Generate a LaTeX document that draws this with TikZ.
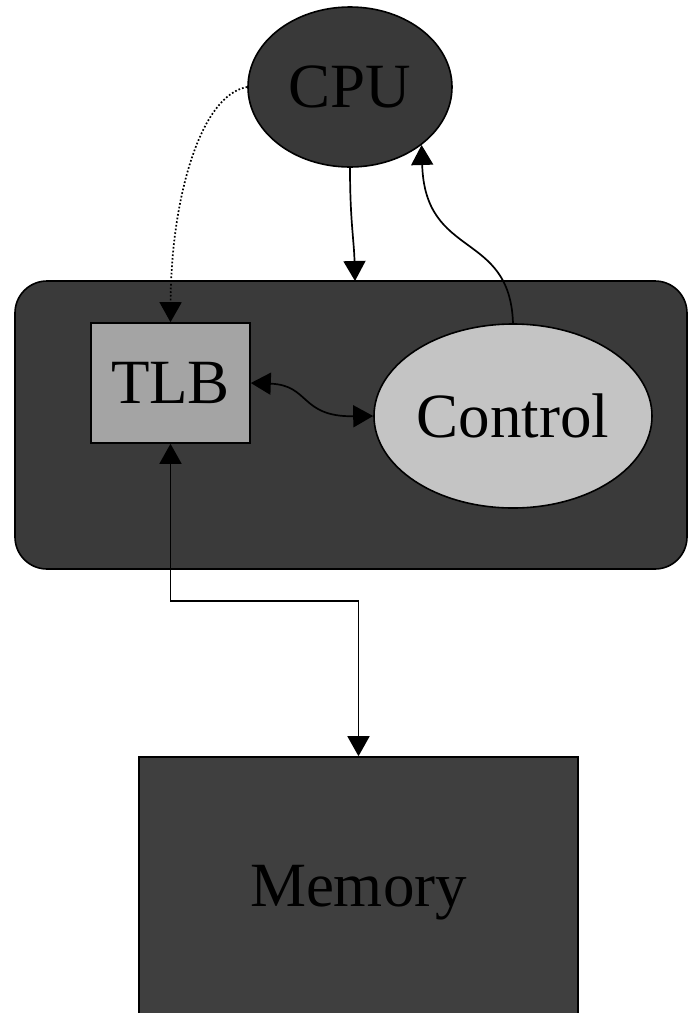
\documentclass[tikz,border=0pt]{standalone}
\usepackage{fontspec}
\setmainfont{Liberation Serif}
\usetikzlibrary{arrows.meta,shapes.geometric}
\definecolor{boxfill}{RGB}{58,58,58}
\definecolor{cpufill}{RGB}{57,57,57}
\definecolor{memfill}{RGB}{63,63,63}
\definecolor{tlbfill}{RGB}{164,164,164}
\definecolor{ctrlfill}{RGB}{196,196,196}
\begin{document}
\begin{tikzpicture}[x=1pt,y=-1pt,
  every node/.style={font=\fontsize{63}{70}\selectfont, inner sep=0pt, draw=black, line width=1.6pt, text=black},
  conn/.style={line width=1.7pt},
  tip/.style={-{Triangle[length=20pt,width=22pt]}},
  twotip/.style={{Triangle[length=20pt,width=22pt]}-{Triangle[length=20pt,width=22pt]}}]
\useasboundingbox (0,0) rectangle (688,1013);
\clip (0,0) rectangle (688,1013);
% nodes
\node[rectangle, rounded corners=32pt, fill=boxfill, minimum width=672pt, minimum height=288pt] (mmu) at (351,425) {};
\node[ellipse, fill=cpufill, minimum width=204pt, minimum height=160pt] (cpu) at (350,87) {\raisebox{-2pt}{CPU}};
\node[rectangle, fill=tlbfill, minimum width=159pt, minimum height=120pt] (tlb) at (170.5,383) {TLB};
\node[ellipse, fill=ctrlfill, minimum width=278pt, minimum height=184pt] (ctrl) at (513,416) {Control};
\node[rectangle, fill=memfill, minimum width=439pt, minimum height=272pt] (mem) at (358.5,893) {Memory};
\coordinate (mmuin) at (355,281);
% connectors
\draw[conn,tip] (cpu.south) .. controls (350,220) and (354,240) .. (mmuin);
\draw[conn,tip] (ctrl.north) .. controls (510,230) and (425,260) .. (cpu.-39);
\draw[conn,dotted,tip] (cpu.west) .. controls (200,95) and (171,200) .. (tlb.north);
\draw[conn,twotip] (tlb.east) .. controls (310,385) and (300,417) .. (ctrl.west);
\draw[conn,twotip] (tlb.south) -- ++(0,157) -| (mem.north);
\end{tikzpicture}
\end{document}
